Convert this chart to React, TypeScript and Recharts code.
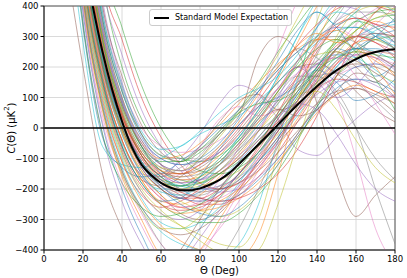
import React from 'react'
import { LineChart, Line, XAxis, YAxis, CartesianGrid, ReferenceArea } from 'recharts'

// angular samples
const thetaSim = [10, 20, 30, 40, 50, 60, 70, 80, 90, 100, 110, 120, 130, 140, 150, 160, 170, 180]
const thetaSM = [10, 15, 20, 25, 30, 35, 40, 45, 50, 55, 60, 65, 70, 75, 80, 85, 90, 95, 100, 105, 110, 115, 120, 125, 130, 135, 140, 145, 150, 155, 160, 165, 170, 175, 180]

const standardModel = [970, 760, 570, 400, 250, 125, 22, -62, -120, -155, -180, -196, -204, -204, -198, -186, -170, -148, -118, -86, -54, -22, 11, 44, 76, 107, 137, 165, 189, 209, 226, 240, 249, 255, 258]

// simulated realisations C(theta), one row per sky
const realisations: number[][] = [
  [1500, 620, 230, 20, -130, -200, -230, -210, -170, -110, -40, 30, 110, 190, 260, 300, 330, 350],
  [1300, 520, 160, -40, -170, -240, -250, -220, -160, -90, -10, 80, 170, 260, 330, 390, 420, 430],
  [1600, 750, 300, 80, -60, -140, -170, -180, -150, -100, -30, 50, 140, 220, 280, 300, 290, 260],
  [1200, 450, 90, -110, -220, -260, -240, -200, -150, -100, -40, 20, 80, 130, 160, 150, 120, 100],
  [1800, 900, 420, 150, -20, -120, -170, -170, -140, -80, 0, 90, 180, 270, 350, 410, 450, 470],
  [1400, 600, 200, -10, -150, -220, -280, -300, -270, -200, -110, -10, 90, 180, 240, 260, 240, 200],
  [1100, 400, 40, -150, -280, -380, -430, -400, -330, -240, -140, -40, 50, 120, 170, 200, 210, 200],
  [1700, 800, 350, 100, -50, -120, -140, -110, -60, 10, 80, 150, 220, 290, 350, 380, 380, 370],
  [1300, 560, 190, -10, -120, -170, -180, -150, -100, -30, 50, 130, 200, 240, 250, 220, 180, 150],
  [1500, 680, 260, 40, -90, -160, -190, -200, -190, -160, -110, -40, 40, 120, 200, 270, 320, 340],
  [1000, 380, 10, -200, -350, -450, -420, -330, -230, -150, -80, -10, 60, 130, 200, 260, 300, 320],
  [1100, 420, 60, -160, -300, -420, -460, -400, -300, -200, -110, -30, 50, 140, 220, 280, 290, 260],
  [1900, 1000, 480, 200, 30, -60, -100, -110, -90, -40, 30, 120, 210, 300, 380, 430, 440, 420],
  [1400, 640, 240, 20, -110, -180, -220, -250, -250, -220, -160, -80, 20, 120, 210, 280, 310, 300],
  [1300, 560, 180, -40, -150, -160, -100, -20, 80, 140, 110, 30, -70, -90, -30, 30, 80, 110],
  [1200, 500, 150, -60, -170, -190, -160, -100, -20, 40, 230, 300, 250, 80, -150, -290, -220, -160],
  [1500, 700, 280, 50, -80, -150, -180, -170, -120, -50, 40, 130, 200, 200, 100, -100, -330, -450],
  [1300, 600, 220, 10, -120, -190, -210, -190, -140, -70, 10, 90, 150, 170, 120, 0, -200, -380],
  [1200, 480, 120, -90, -210, -280, -320, -350, -380, -390, -300, -80, 150, 350, 500, 550, 500, 450],
  [1100, 440, 80, -130, -260, -340, -380, -400, -420, -380, -250, -40, 160, 330, 420, 440, 420, 380],
  [1600, 760, 320, 90, -60, -150, -200, -230, -240, -220, -170, -100, -20, 70, 150, 200, 210, 180],
  [1400, 620, 230, 30, -80, -140, -160, -140, -90, -20, 60, 160, 280, 400, 500, 560, 580, 560],
  [1700, 820, 360, 120, -20, -90, -110, -80, -20, 60, 150, 250, 340, 420, 460, 440, 400, 350],
  [1300, 540, 170, -40, -160, -230, -260, -250, -220, -170, -100, -10, 90, 190, 270, 300, 280, 230],
  [1000, 350, -20, -240, -380, -470, -440, -360, -270, -190, -110, -30, 50, 110, 150, 160, 140, 100],
  [1500, 660, 250, 40, -90, -160, -200, -210, -200, -180, -140, -80, -10, 60, 110, 130, 100, 50],
  [1800, 880, 400, 140, 0, -60, -80, -70, -40, 10, 70, 130, 180, 220, 240, 240, 230, 210],
  [1300, 580, 210, 0, -120, -190, -220, -220, -190, -130, -50, 40, 120, 170, 180, 150, 90, 30],
  [1450, 640, 250, 30, -100, -170, -200, -190, -170, -140, -90, -20, 60, 150, 240, 320, 380, 420],
  [1250, 530, 160, -50, -160, -200, -200, -170, -120, -60, 10, 80, 150, 210, 240, 230, 190, 140],
  [1600, 720, 290, 60, -70, -140, -180, -200, -200, -170, -110, -30, 60, 150, 220, 260, 260, 240],
  [1350, 590, 200, -10, -140, -220, -260, -270, -260, -230, -180, -110, -30, 50, 110, 140, 120, 80],
  [1550, 700, 280, 50, -90, -160, -190, -180, -150, -110, -60, 10, 100, 200, 290, 350, 380, 390],
  [1200, 500, 140, -70, -190, -250, -270, -260, -220, -150, -60, 50, 170, 280, 340, 360, 340, 300],
  [1650, 780, 330, 90, -40, -100, -120, -110, -80, -30, 30, 100, 160, 210, 230, 220, 180, 130],
  [1100, 430, 70, -140, -260, -330, -350, -330, -280, -210, -130, -50, 20, 80, 120, 130, 110, 80],
  [1450, 650, 260, 40, -110, -190, -230, -240, -230, -190, -130, -50, 50, 160, 260, 340, 390, 410],
  [1750, 850, 380, 130, -20, -90, -100, -70, -20, 50, 120, 190, 250, 290, 300, 280, 240, 200],
  [1300, 560, 190, -20, -140, -200, -240, -270, -290, -270, -210, -120, -20, 80, 170, 230, 250, 240],
  [1200, 470, 110, -100, -230, -310, -330, -310, -260, -180, -90, 0, 90, 170, 230, 260, 250, 220],
  [1400, 610, 220, 10, -120, -200, -250, -280, -290, -260, -200, -120, -30, 60, 130, 160, 150, 120],
  [1550, 720, 300, 70, -50, -100, -90, -50, 10, 80, 150, 210, 260, 290, 290, 260, 220, 180],
  [1250, 510, 150, -60, -180, -250, -290, -310, -310, -280, -220, -140, -40, 70, 170, 250, 290, 300],
  [1350, 600, 230, 20, -100, -150, -150, -120, -70, 0, 90, 180, 270, 340, 390, 410, 400, 380],
  [1500, 680, 270, 50, -80, -150, -180, -170, -140, -90, -30, 40, 80, 60, -20, -120, -200, -240],
  [1600, 740, 310, 80, -60, -130, -150, -130, -80, -10, 70, 150, 200, 210, 180, 120, 60, 20],
  [1300, 560, 190, -20, -150, -230, -260, -240, -170, -60, 100, 260, 420, 560, 600, 580, 560, 520],
  [1450, 640, 240, 20, -110, -170, -190, -170, -120, -50, 30, 110, 170, 170, 100, 0, -100, -170],
  [1350, 600, 220, 10, -110, -180, -200, -180, -140, -80, -10, 60, 110, 120, 60, -40, -130, -180],
  [800, 280, -60, -120, -130, -100, -60, -20, 10, 40, 90, 150, 220, 280, 320, 330, 310, 280],
  [900, 330, -30, -130, -160, -150, -110, -60, 0, 60, 120, 190, 250, 300, 330, 330, 300, 260],
  [1150, 460, 100, -110, -240, -320, -370, -400, -410, -420, -350, -150, 80, 280, 400, 450, 430, 400],
  [2500, 1200, 560, 330, 140, 0, -90, -140, -150, -130, -80, 0, 90, 180, 260, 320, 360, 370],
  [2200, 1100, 500, 290, 100, -30, -120, -180, -200, -180, -120, -40, 60, 170, 260, 300, 280, 250],
  [2000, 1000, 470, 240, 60, -60, -140, -190, -210, -200, -160, -100, -20, 80, 180, 240, 230, 190],
  [1700, 850, 400, 170, 10, -80, -110, -60, 20, 90, 110, 60, 80, 160, 250, 200, 150, 220],
  [1500, 680, 270, 40, -100, -170, -150, -60, 30, 70, 40, 60, 150, 260, 330, 300, 340, 400],
  [1400, 620, 230, 20, -110, -160, -130, -90, -10, 60, 130, 200, 260, 230, 180, 230, 300, 260],
  [1600, 740, 300, 60, -70, -130, -140, -100, -30, 50, 140, 240, 360, 470, 520, 480, 450, 470],
  [1350, 580, 200, -20, -150, -210, -220, -190, -120, -30, 60, 170, 300, 420, 500, 520, 500, 460],
  [1250, 520, 160, -60, -180, -240, -230, -160, -70, 10, 70, 100, 140, 190, 150, 90, 110, 160],
  [1450, 650, 260, 40, -90, -150, -170, -160, -120, -60, 20, 120, 220, 290, 320, 280, 200, 110],
  [1550, 710, 290, 70, -60, -110, -110, -70, -10, 50, 80, 90, 130, 200, 280, 350, 330, 280],
  [1300, 570, 200, 0, -130, -200, -230, -230, -200, -150, -70, 30, 140, 250, 330, 360, 340, 330],
  [1200, 490, 130, -80, -210, -280, -300, -270, -200, -110, -10, 100, 220, 330, 400, 390, 330, 280],
  [1650, 790, 340, 100, -40, -120, -150, -140, -110, -50, 20, 60, 40, 60, 120, 180, 160, 100],
  [1400, 620, 220, 10, -120, -180, -200, -200, -190, -160, -90, 10, 120, 210, 230, 170, 80, -20],
  [1500, 690, 280, 50, -80, -140, -160, -150, -120, -70, -10, 40, 120, 240, 360, 440, 460, 440],
  [1100, 420, 60, -150, -270, -330, -330, -290, -230, -160, -80, 10, 100, 180, 260, 320, 360, 380],
  [1800, 860, 380, 140, -10, -70, -60, -10, 50, 100, 130, 170, 240, 330, 380, 360, 300, 270],
  [1350, 600, 220, 20, -110, -190, -230, -240, -210, -150, -80, 10, 110, 200, 260, 230, 170, 210],
  [1250, 540, 170, -40, -170, -250, -280, -270, -240, -200, -140, -60, 30, 130, 210, 250, 230, 170],
  [950, 340, -20, -180, -260, -290, -280, -250, -200, -130, -50, 40, 120, 190, 230, 250, 240, 230],
  [1500, 670, 260, 40, -90, -170, -210, -230, -240, -230, -200, -150, -70, 40, 170, 290, 380, 420],
  [1600, 750, 320, 80, -50, -120, -140, -120, -80, -20, 50, 130, 200, 150, 100, 140, 220, 300],
  [600, 200, -150, -330, -450, -480, -400, -300, -200, -120, -50, 20, 90, 150, 190, 210, 200, 170],
  [1050, 400, 20, -180, -320, -430, -470, -420, -320, -210, -100, 0, 90, 160, 210, 240, 250, 240],
  [1150, 440, 70, -140, -270, -380, -450, -480, -430, -330, -200, -60, 70, 180, 260, 300, 310, 300],
  [1250, 500, 130, -80, -200, -270, -320, -370, -410, -430, -400, -250, -50, 150, 300, 380, 400, 390],
  [1400, 610, 220, 10, -110, -170, -190, -160, -100, -30, 60, 170, 300, 380, 340, 380, 450, 420],
  [1700, 820, 360, 120, -30, -100, -120, -100, -50, 30, 120, 220, 320, 380, 330, 260, 300, 360],
  [1500, 680, 270, 50, -80, -140, -150, -120, -60, 20, 110, 200, 270, 310, 280, 300, 350, 320],
  [1350, 590, 210, 0, -120, -180, -190, -160, -110, -40, 40, 120, 200, 260, 290, 250, 160, 60],
]

const palette = ['#1f77b4', '#ff7f0e', '#2ca02c', '#d62728', '#9467bd', '#8c564b', '#e377c2', '#7f7f7f', '#bcbd22', '#17becf']
const xTicks = [0, 20, 40, 60, 80, 100, 120, 140, 160, 180]
const yTicks = [-400, -300, -200, -100, 0, 100, 200, 300, 400]

const FONT = "'DejaVu Sans', sans-serif"
const TICK = { fontSize: 8.5, fill: '#000', fontFamily: FONT }

const simData = realisations.map(row => row.map((v, i) => ({ theta: thetaSim[i], v })))
const smData = standardModel.map((v, i) => ({ theta: thetaSM[i], v }))
const zeroData = [{ theta: 0, v: 0 }, { theta: 180, v: 0 }]

const fmt = (v: number) => (v < 0 ? '\u2212' + Math.abs(v) : String(v))

export default function App() {
  return (
    <div style={{ position: 'absolute', left: 0, top: 0, width: 407, height: 278, background: '#fff' }}>
      <LineChart width={407} height={278} margin={{ top: 6, right: 12, left: 0, bottom: 0 }}>
        <CartesianGrid stroke="#d0d0d0" strokeWidth={0.8} />
        <XAxis
          dataKey="theta" type="number" domain={[0, 180]} ticks={xTicks} allowDataOverflow
          tick={TICK} tickSize={3.5} tickLine={{ stroke: '#000' }} axisLine={{ stroke: '#333' }}
          height={28}
          label={{ value: 'Θ (Deg)', position: 'insideBottom', offset: 4, style: { fontSize: 10, fontFamily: FONT, fill: '#000' } }}
        />
        <YAxis
          dataKey="v" type="number" domain={[-400, 400]} ticks={yTicks} allowDataOverflow
          tick={TICK} tickSize={3.5} tickLine={{ stroke: '#000' }} axisLine={{ stroke: '#333' }}
          tickFormatter={fmt} width={44}
          label={{
            content: () => (
              <text x={11} y={128} transform="rotate(-90 11 128)" textAnchor="middle" dominantBaseline="central"
                style={{ fontSize: 10, fontFamily: FONT, fill: '#000' }}>
                <tspan fontStyle="italic">C</tspan>(Θ) (μK<tspan dy={-4} fontSize={7}>2</tspan><tspan dy={4}>)</tspan>
              </text>
            ),
          }}
        />
        <ReferenceArea x1={0} x2={180} y1={-400} y2={400} fill="none" stroke="#333" strokeWidth={0.8} ifOverflow="visible" />
        {simData.map((d, i) => (
          <Line key={i} data={d} dataKey="v" type="monotone" dot={false} activeDot={false}
            stroke={palette[i % palette.length]} strokeOpacity={0.65} strokeWidth={0.8} isAnimationActive={false} />
        ))}
        <Line data={zeroData} dataKey="v" type="linear" dot={false} stroke="#000" strokeWidth={1.5} isAnimationActive={false} />
        <Line data={smData} dataKey="v" type="monotone" dot={false} stroke="#000" strokeWidth={2} isAnimationActive={false} />
      </LineChart>
      <div style={{
        position: 'absolute', left: 149, top: 9, width: 143, height: 17, boxSizing: 'border-box',
        border: '1px solid #ccc', borderRadius: 3, background: 'rgba(255,255,255,0.85)',
        fontFamily: FONT, fontSize: 8, display: 'flex', alignItems: 'center',
      }}>
        <div style={{ width: 15, height: 2, background: '#000', marginLeft: 4, marginRight: 6 }} />
        <span>Standard Model Expectation</span>
      </div>
    </div>
  )
}
